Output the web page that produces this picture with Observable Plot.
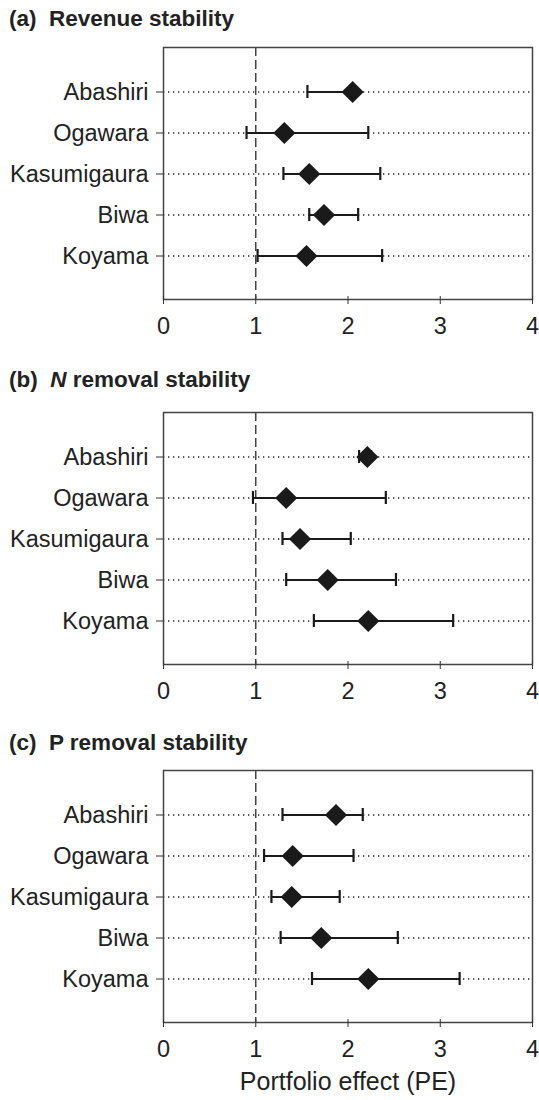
<!DOCTYPE html>
<html>
<head>
<meta charset="utf-8">
<script src="https://cdn.jsdelivr.net/npm/d3@7"></script>
<script src="https://cdn.jsdelivr.net/npm/@observablehq/plot@0.6"></script>
<style>
  html, body { margin: 0; padding: 0; background: #fff; }
  #root { position: relative; width: 539px; height: 1100px; font-family: "Liberation Sans", Arial, sans-serif; color: #222; }
  .title { position: absolute; left: 9px; font-size: 22.5px; font-weight: bold; line-height: 22px; white-space: pre; }
  .panel { position: absolute; left: 0; }
</style>
</head>
<body>
<div id="root"></div>
<script>
const lakes = ["Abashiri", "Ogawara", "Kasumigaura", "Biwa", "Koyama"];

// (a) Revenue stability
const revenuePE    = [2.05, 1.31, 1.58, 1.74, 1.55];
const revenueLower = [1.56, 0.90, 1.30, 1.58, 1.02];
const revenueUpper = [2.08, 2.22, 2.35, 2.11, 2.37];

// (b) N removal stability
const nPE    = [2.21, 1.33, 1.48, 1.78, 2.22];
const nLower = [2.12, 0.97, 1.29, 1.33, 1.63];
const nUpper = [2.25, 2.41, 2.03, 2.52, 3.14];

// (c) P removal stability
const pPE    = [1.87, 1.40, 1.39, 1.71, 2.22];
const pLower = [1.29, 1.09, 1.17, 1.27, 1.61];
const pUpper = [2.16, 2.06, 1.91, 2.54, 3.21];

const xTicks = [0, 1, 2, 3, 4];
const reference = [1];

const panels = [
  {title: "(a)  Revenue stability", pe: revenuePE, lo: revenueLower, hi: revenueUpper, titleTop: 8, svgTop: 40, last: false},
  {title: "(b)  <i>N</i> removal stability", pe: nPE, lo: nLower, hi: nUpper, titleTop: 369, svgTop: 405, last: false},
  {title: "(c)  P removal stability", pe: pPE, lo: pLower, hi: pUpper, titleTop: 732, svgTop: 763, last: true}
];

const root = document.getElementById("root");

for (const p of panels) {
  const t = document.createElement("div");
  t.className = "title";
  t.style.top = p.titleTop + "px";
  t.innerHTML = p.title;
  root.appendChild(t);

  const data = lakes.map((lake, i) => ({lake, pe: p.pe[i], lo: p.lo[i], hi: p.hi[i]}));
  const mt = 7, inner = 252, mb = p.last ? 80 : 45;

  const chart = Plot.plot({
    width: 539,
    height: mt + inner + mb,
    marginTop: mt,
    marginBottom: mb,
    marginLeft: 163,
    marginRight: 7,
    style: {fontFamily: "Liberation Sans, Arial, sans-serif", fontSize: "23px", color: "#222", background: "white"},
    x: {domain: [0, 4], ticks: xTicks, tickFormat: d => String(d), label: p.last ? "Portfolio effect (PE)" : null},
    y: {type: "band", domain: lakes, paddingInner: 0, paddingOuter: 0.52, label: null},
    marks: [
      Plot.ruleY(lakes, {y: d => d, stroke: "#222", strokeWidth: 1.3, strokeDasharray: "1.3,3.7"}),
      Plot.ruleX(reference, {stroke: "#444", strokeWidth: 1.5, strokeDasharray: "9,4"}),
      Plot.ruleY(data, {y: "lake", x1: "lo", x2: "hi", stroke: "#1a1a1a", strokeWidth: 2.2}),
      Plot.tickX(data, {x: "lo", y: "lake", stroke: "#1a1a1a", strokeWidth: 2.2, insetTop: 14, insetBottom: 14}),
      Plot.tickX(data, {x: "hi", y: "lake", stroke: "#1a1a1a", strokeWidth: 2.2, insetTop: 14, insetBottom: 14}),
      Plot.dot(data, {x: "pe", y: "lake", symbol: "diamond2", r: 10, fill: "#1a1a1a", stroke: "none"}),
      Plot.frame({stroke: "#444", strokeWidth: 1.5}),
      Plot.axisY({tickSize: 7, tickPadding: 8, fontSize: 23.5, stroke: "#333"}),
      Plot.axisX({ticks: xTicks, tickFormat: d => String(d), tickSize: 8, dy: -3, tickPadding: 13, fontSize: 23.5, stroke: "#333",
                  label: p.last ? "Portfolio effect (PE)" : null, labelAnchor: "center", labelArrow: "none", labelOffset: 67})
    ]
  });
  chart.classList.add("panel");
  chart.style.top = p.svgTop + "px";
  if (p.last) {
    const lbl = chart.querySelector('[aria-label="x-axis label"]');
    if (lbl) lbl.setAttribute("font-size", "25");
  }
  root.appendChild(chart);
}
</script>
</body>
</html>
